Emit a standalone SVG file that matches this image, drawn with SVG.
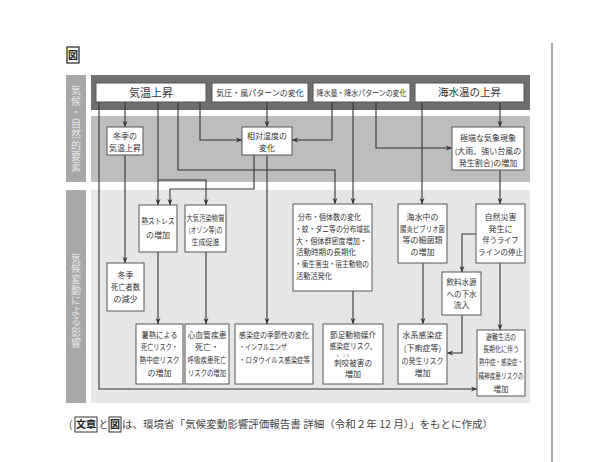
<svg xmlns="http://www.w3.org/2000/svg" width="600" height="462" viewBox="0 0 600 462">
<style>
.bx{fill:#fff;stroke:#555;stroke-width:1}
.t{font-family:"Noto Sans CJK JP","Noto Sans",sans-serif;font-size:8px;fill:#333;text-anchor:middle}
.tl{text-anchor:start}
.side{font-family:"Noto Sans CJK JP","Noto Sans",sans-serif;font-size:10px;fill:#e4e4e4;writing-mode:vertical-rl;text-anchor:start}
.c{fill:none;stroke:#333;stroke-width:1.1;marker-end:url(#ah)}
.cap{font-family:"Noto Sans CJK JP","Noto Sans",sans-serif;font-size:10px;fill:#444}
</style>
<defs>
<marker id="ah" viewBox="0 0 6 6" refX="6" refY="3" markerWidth="6" markerHeight="6" markerUnits="userSpaceOnUse" orient="auto">
<path d="M0,0.5 L6,3 L0,5.5 L1.8,3 Z" fill="#333"/>
</marker>
</defs>
<rect width="600" height="462" fill="#fff"/>
<line x1="552" y1="43" x2="552" y2="462" stroke="#8a8a8a" stroke-width="1.5"/>
<g id="title">
<rect x="67" y="47" width="12" height="16" fill="#fff" stroke="#222" stroke-width="1.2"/>
<text x="73" y="59" class="t" style="font-size:10px;font-weight:bold;fill:#222">図</text>
</g>
<g id="bands">
<rect x="66" y="75" width="20" height="107" fill="#a8a8a8"/>
<rect x="66" y="190" width="20" height="213" fill="#a8a8a8"/>
<rect x="91" y="75" width="439" height="35" fill="#6f6f6f"/>
<rect x="91" y="116" width="439" height="66" fill="#bdbdbd"/>
<rect x="91" y="190" width="439" height="213" fill="#e6e6e6"/>
<text class="side" x="76" y="85" style="letter-spacing:1px">気候・自然的要素</text>
<text class="side" x="76" y="253" style="letter-spacing:0.6px">気候変動による影響</text>
</g>
<g id="connectors">
<path class="c" d="M99,102 V389 H477"/>
<path class="c" d="M125,102 V127"/>
<path class="c" d="M158,102 V205"/>
<path class="c" d="M158,180 H206 V205"/>
<path class="c" d="M178,102 V170 H335 V204"/>
<path class="c" d="M200,102 V140 H242"/>
<path class="c" d="M267,102 V127"/>
<path class="c" d="M332,102 V140 H292"/>
<path class="c" d="M353,102 V204"/>
<path class="c" d="M376,102 V148 H452"/>
<path class="c" d="M422,102 V204"/>
<path class="c" d="M500,102 V127"/>
<path class="c" d="M254,155 V189 H170 V205"/>
<path class="c" d="M267,155 V324"/>
<path class="c" d="M500,170 V204"/>
<path class="c" d="M125,155 V263"/>
<path class="c" d="M158,252 V324"/>
<path class="c" d="M206,252 V324"/>
<path class="c" d="M353,291 V324"/>
<path class="c" d="M423,263 V324"/>
<path class="c" d="M500,263 V330"/>
<path class="c" d="M476,234 H462 V272"/>
<path class="c" d="M462,315 V353 H447"/>
</g>
<g id="n_kion"><rect class="bx" x="96" y="83" width="110" height="19"/><text class="t" x="151" y="96.5" style="font-size:11px">気温上昇</text></g>
<g id="n_kiatsu"><rect class="bx" x="212" y="83" width="96" height="19"/><text class="t" x="260" y="95.5">気圧・風パターンの変化</text></g>
<g id="n_kousui"><rect class="bx" x="313" y="83" width="97" height="19"/><text class="t" x="361.5" y="95.5" textLength="90" lengthAdjust="spacingAndGlyphs">降水量・降水パターンの変化</text></g>
<g id="n_kaisui"><rect class="bx" x="415" y="83" width="109" height="19"/><text class="t" x="469.5" y="96" style="font-size:10.5px">海水温の上昇</text></g>
<g id="n_toki"><rect class="bx" x="107" y="127" width="36" height="28"/><text class="t"><tspan x="125" y="138.5">冬季の</tspan><tspan x="125" y="150.5">気温上昇</tspan></text></g>
<g id="n_shitsudo"><rect class="bx" x="242" y="127" width="50" height="28"/><text class="t"><tspan x="267" y="138.5">相対湿度の</tspan><tspan x="267" y="150.5">変化</tspan></text></g>
<g id="n_kyokutan"><rect class="bx" x="452" y="127" width="72" height="43"/><text class="t"><tspan x="488" y="141">極端な気象現象</tspan><tspan x="488" y="153.5">(大雨、強い台風の</tspan><tspan x="488" y="166">発生割合)の増加</tspan></text></g>
<g id="n_netsu"><rect class="bx" x="139" y="205" width="38" height="47"/><text class="t"><tspan x="158" y="224" textLength="33" lengthAdjust="spacingAndGlyphs">熱ストレス</tspan><tspan x="158" y="238">の増加</tspan></text></g>
<g id="n_taiki"><rect class="bx" x="185" y="205" width="41" height="47"/><text class="t"><tspan x="205.5" y="221" textLength="38" lengthAdjust="spacingAndGlyphs">大気汚染物質</tspan><tspan x="205.5" y="232.5" textLength="34" lengthAdjust="spacingAndGlyphs">(オゾン等)の</tspan><tspan x="205.5" y="245" textLength="28" lengthAdjust="spacingAndGlyphs">生成促進</tspan></text></g>
<g id="n_tokishibou"><rect class="bx" x="107" y="263" width="37" height="48"/><text class="t"><tspan x="125.5" y="278">冬季</tspan><tspan x="125.5" y="290" textLength="29" lengthAdjust="spacingAndGlyphs">死亡者数</tspan><tspan x="125.5" y="302">の減少</tspan></text></g>
<g id="n_bunpu"><rect class="bx" x="293" y="204" width="79" height="87"/><text class="t tl"><tspan x="298" y="220" textLength="63" lengthAdjust="spacingAndGlyphs">分布・個体数の変化</tspan><tspan x="295" y="231.8" textLength="75" lengthAdjust="spacingAndGlyphs">・蚊・ダニ等の分布域拡</tspan><tspan x="296" y="243.6" textLength="71" lengthAdjust="spacingAndGlyphs">大・個体群密度増加・</tspan><tspan x="296" y="255.4" textLength="60" lengthAdjust="spacingAndGlyphs">活動時期の長期化</tspan><tspan x="295" y="267.2" textLength="74" lengthAdjust="spacingAndGlyphs">・衛生害虫・宿主動物の</tspan><tspan x="296" y="279" textLength="36" lengthAdjust="spacingAndGlyphs">活動活発化</tspan></text></g>
<g id="n_kaisuichu"><rect class="bx" x="398" y="204" width="49" height="59"/><text class="t"><tspan x="422.5" y="220">海水中の</tspan><tspan x="422.5" y="231.5" textLength="45" lengthAdjust="spacingAndGlyphs">腸炎ビブリオ菌</tspan><tspan x="422.5" y="243">等の細菌類</tspan><tspan x="422.5" y="255">の増加</tspan></text></g>
<g id="n_saigai"><rect class="bx" x="476" y="204" width="49" height="59"/><text class="t"><tspan x="500.5" y="220">自然災害</tspan><tspan x="500.5" y="231.5">発生に</tspan><tspan x="500.5" y="243" textLength="36" lengthAdjust="spacingAndGlyphs">伴うライフ</tspan><tspan x="500.5" y="255" textLength="45" lengthAdjust="spacingAndGlyphs">ラインの停止</tspan></text></g>
<g id="n_inryo"><rect class="bx" x="442" y="272" width="39" height="43"/><text class="t"><tspan x="461.5" y="285" textLength="30" lengthAdjust="spacingAndGlyphs">飲料水源</tspan><tspan x="461.5" y="296.5" textLength="30" lengthAdjust="spacingAndGlyphs">への下水</tspan><tspan x="461.5" y="308">流入</tspan></text></g>
<g id="n_shonetsu"><rect class="bx" x="136" y="324" width="47" height="60"/><text class="t"><tspan x="159.5" y="338" textLength="36" lengthAdjust="spacingAndGlyphs">暑熱による</tspan><tspan x="159.5" y="350" textLength="37" lengthAdjust="spacingAndGlyphs">死亡リスク・</tspan><tspan x="159.5" y="363" textLength="40" lengthAdjust="spacingAndGlyphs">熱中症リスク</tspan><tspan x="159.5" y="375.5">の増加</tspan></text></g>
<g id="n_shinkekkan"><rect class="bx" x="185" y="324" width="44" height="60"/><text class="t"><tspan x="207" y="338" textLength="39" lengthAdjust="spacingAndGlyphs">心血管疾患</tspan><tspan x="207" y="350">死亡・</tspan><tspan x="207" y="363" textLength="39" lengthAdjust="spacingAndGlyphs">呼吸疾患死亡</tspan><tspan x="207" y="375.5" textLength="38" lengthAdjust="spacingAndGlyphs">リスクの増加</tspan></text></g>
<g id="n_kansen"><rect class="bx" x="235" y="324" width="78" height="60"/><text class="t tl"><tspan x="239" y="337.5" textLength="70" lengthAdjust="spacingAndGlyphs">感染症の季節性の変化</tspan><tspan x="239" y="350" textLength="48" lengthAdjust="spacingAndGlyphs">・インフルエンザ</tspan><tspan x="239" y="363" textLength="71" lengthAdjust="spacingAndGlyphs">・ロタウイルス感染症等</tspan></text></g>
<g id="n_setsusoku"><rect class="bx" x="323" y="324" width="60" height="60"/><text class="t"><tspan x="353" y="337.5" textLength="46" lengthAdjust="spacingAndGlyphs">節足動物媒介</tspan><tspan x="353" y="348.5" textLength="47" lengthAdjust="spacingAndGlyphs">感染症リスク、</tspan><tspan x="353" y="366" textLength="38" lengthAdjust="spacingAndGlyphs">刺咬被害の</tspan><tspan x="353" y="377">増加</tspan></text><text class="t" style="font-size:3.5px"><tspan x="338" y="357">し</tspan><tspan x="346" y="357">こう</tspan></text></g>
<g id="n_suikei"><rect class="bx" x="398" y="324" width="49" height="60"/><text class="t"><tspan x="422.5" y="338">水系感染症</tspan><tspan x="422.5" y="350.5">(下痢症等)</tspan><tspan x="422.5" y="364" textLength="42" lengthAdjust="spacingAndGlyphs">の発生リスク</tspan><tspan x="422.5" y="376">増加</tspan></text></g>
<g id="n_hinan"><rect class="bx" x="477" y="330" width="48" height="66"/><text class="t" style="font-size:7.5px"><tspan x="501" y="339.5" textLength="30" lengthAdjust="spacingAndGlyphs">避難生活の</tspan><tspan x="501" y="352" textLength="36" lengthAdjust="spacingAndGlyphs">長期化に伴う</tspan><tspan x="501" y="365" textLength="44" lengthAdjust="spacingAndGlyphs">熱中症・感染症・</tspan><tspan x="501" y="378.5" textLength="45" lengthAdjust="spacingAndGlyphs">精神疾患リスクの</tspan><tspan x="501" y="392">増加</tspan></text></g>
<g id="caption">
<rect x="75" y="417" width="22" height="15" fill="none" stroke="#333" stroke-width="1"/>
<rect x="109" y="417" width="12" height="15" fill="none" stroke="#333" stroke-width="1"/>
<text class="cap"><tspan x="69" y="428">(</tspan><tspan x="76" y="428" textLength="20" lengthAdjust="spacingAndGlyphs" style="font-weight:bold;fill:#222">文章</tspan><tspan x="98.5" y="428">と</tspan><tspan x="110" y="428" style="font-weight:bold;fill:#222">図</tspan><tspan x="122" y="428" textLength="371" lengthAdjust="spacingAndGlyphs">は、環境省「気候変動影響評価報告書 詳細（令和２年 12 月）」をもとに作成）</tspan></text>
</g>
</svg>
